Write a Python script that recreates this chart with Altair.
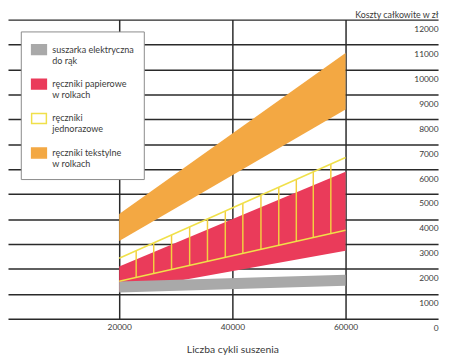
import altair as alt
import pandas as pd
import numpy as np

# ---- data ----
series = [
    "suszarka elektryczna|do rąk",
    "ręczniki papierowe|w rolkach",
    "ręczniki|jednorazowe",
    "ręczniki tekstylne|w rolkach",
]
cycles = [20000, 60000]
grey_low = [1050, 1330]
grey_high = [1500, 1770]
red_low = [1100, 2730]
red_high = [2100, 5900]
yellow_low = [1510, 3550]
yellow_high = [2430, 6470]
orange_low = [3120, 8400]
orange_high = [4200, 10660]
hatch_x = [23000, 26100, 29250, 32450, 35600, 38750, 41850, 45050, 48200, 51300, 54300, 57400]
y_ticks = list(range(0, 13000, 1000))
x_ticks = [20000, 40000, 60000]

fill_colors = ["#a9a9a9", "#ea3b5a", "#ffffff", "#f3a843"]
stroke_colors = ["#a9a9a9", "#ea3b5a", "#f0e04a", "#f3a843"]

# ---- tables ----
bands = pd.DataFrame({
    "series": [series[0]] * 2 + [series[1]] * 2 + [series[3]] * 2,
    "cycles": cycles * 3,
    "low": grey_low + red_low + orange_low,
    "high": grey_high + red_high + orange_high,
})
edges = pd.DataFrame({
    "series": [series[2]] * 4,
    "edge": ["low", "low", "high", "high"],
    "cycles": cycles * 2,
    "value": yellow_low + yellow_high,
})
hatch = pd.DataFrame({
    "cycles": hatch_x,
    "low": np.interp(hatch_x, cycles, yellow_low),
    "high": np.interp(hatch_x, cycles, yellow_high),
})

FONT = "Lato"
xscale = alt.Scale(domain=[350, 76350], nice=False, zero=False)
yscale = alt.Scale(domain=[0, 12000], nice=False, zero=False)
fill_scale = alt.Scale(domain=series, range=fill_colors)
stroke_scale = alt.Scale(domain=series, range=stroke_colors)

legend = alt.Legend(
    title=None, orient="none", legendX=13, legendY=12,
    labelExpr="split(datum.label, '|')",
    symbolType="M-1,-0.667H1V0.667H-1Z", symbolSize=225, symbolStrokeWidth=1.5,
    labelFont=FONT, labelFontSize=9.2, labelColor="#3a3a3a", labelOffset=5, labelLimit=300,
    padding=10, rowPadding=10, fillColor="white", strokeColor="#8a8a8a",
)

x_enc = alt.X("cycles:Q", scale=xscale, axis=alt.Axis(
    values=x_ticks, format="d", grid=True, domain=False, ticks=False,
    labelFont=FONT, labelFontSize=8.5, labelColor="#3a3a3a", labelPadding=11,
    labelBaseline="alphabetic", labelFlush=False,
    title="Liczba cykli suszenia", titleFont=FONT, titleFontSize=10.5,
    titleFontWeight="normal", titleColor="#3a3a3a", titleX=228, titleY=34,
    titleBaseline="alphabetic", titleAlign="center",
))

def y_enc(field):
    return alt.Y(field, scale=yscale, axis=alt.Axis(
        orient="right", values=y_ticks, format="d", grid=True, domain=False, ticks=False,
        labelFont=FONT, labelFontSize=8.5, labelColor="#3a3a3a", labelAlign="right",
        labelPadding=0, labelBaseline="alphabetic", labelOffset=12, labelFlush=False,
        labelOverlap=False,
        title="Koszty całkowite w zł", titleFont=FONT, titleFontSize=9,
        titleFontWeight="normal", titleColor="#3a3a3a", titleAngle=0,
        titleAlign="right", titleBaseline="alphabetic", titleX=0, titleY=-2,
    ))

def band_layer(name):
    return alt.Chart(bands).transform_filter(
        alt.datum.series == name
    ).mark_area().encode(
        x=x_enc,
        y=y_enc("low:Q"),
        y2="high:Q",
        fill=alt.Fill("series:N", scale=fill_scale, legend=legend),
    )

orange = band_layer(series[3])
red = band_layer(series[1])
grey = band_layer(series[0])

yellow_edges = alt.Chart(edges).mark_line(strokeWidth=1.5).encode(
    x=x_enc,
    y=y_enc("value:Q"),
    detail="edge:N",
    stroke=alt.Stroke("series:N", scale=stroke_scale, legend=legend),
)

hatch_lines = alt.Chart(hatch).mark_rule(strokeWidth=1.5, color="#f2d040").encode(
    x=x_enc,
    y=y_enc("low:Q"),
    y2="high:Q",
)

chart = alt.layer(orange, red, grey, hatch_lines, yellow_edges).properties(
    width=437, height=304,
    padding={"top": 9, "left": 0, "right": 4, "bottom": 36},
    autosize=alt.AutoSizeParams(type="none"),
).configure_view(stroke=None).configure_axis(
    zindex=1, gridColor="#2a2a2a", gridWidth=1.5, gridOpacity=1,
)

chart.save("out.html", embed_options={"renderer": "svg", "actions": False})
